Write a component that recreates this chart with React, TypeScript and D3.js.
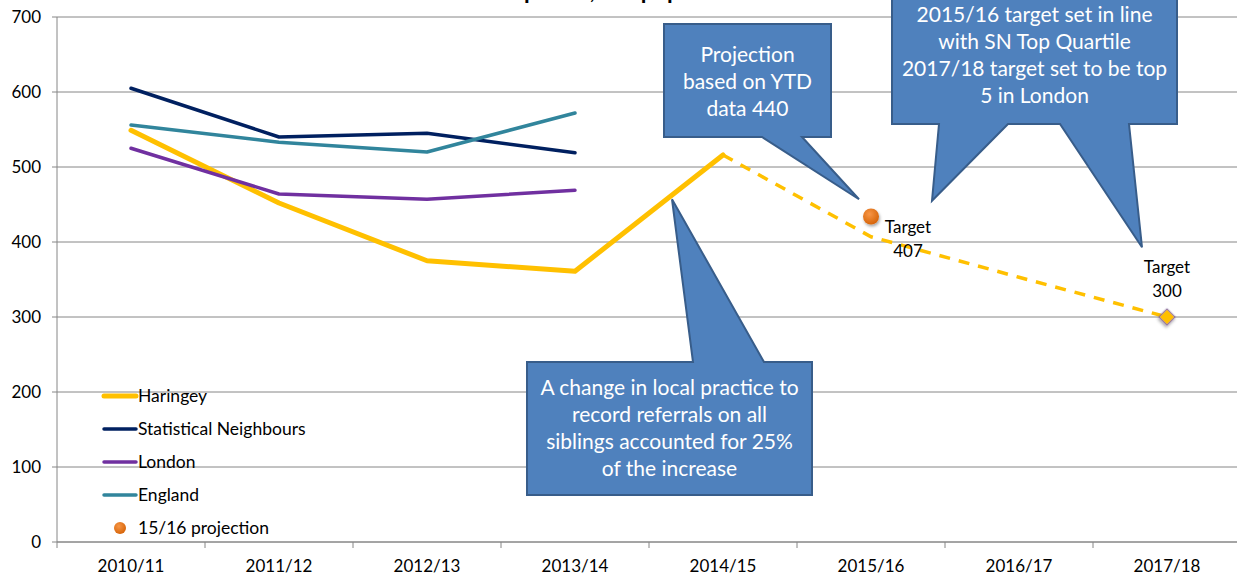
import React from 'react';
import * as d3 from 'd3';

const categories = ['2010/11', '2011/12', '2012/13', '2013/14', '2014/15', '2015/16', '2016/17', '2017/18'];
const haringey = [549, 452, 375, 361, 516];
const statNeighbours = [605, 540, 545, 519];
const london = [525, 464, 457, 469];
const england = [556, 533, 520, 572];
// dashed projection / target path, starting at 2014/15
const projectionCats = ['2014/15', '2015/16', '2016/17', '2017/18'];
const projectionValues = [516, 407, 353, 300];
const ytdProjection = { cat: '2015/16', value: 434 };
const target1718 = { cat: '2017/18', value: 300 };
const yTicks = [0, 100, 200, 300, 400, 500, 600, 700];

const series = [
  { name: 'Haringey', values: haringey, color: '#FFC000', width: 5 },
  { name: 'Statistical Neighbours', values: statNeighbours, color: '#002060', width: 3.5 },
  { name: 'London', values: london, color: '#7030A0', width: 3.5 },
  { name: 'England', values: england, color: '#31859C', width: 3.5 },
];

const W = 1237;
const H = 577;
const FONT = 'Lato, "Open Sans", sans-serif';

// callout: box in pixels, tails point at data positions
const callouts = [
  {
    box: [664, 24, 831, 137],
    tails: [{ side: 'bottom', base: [762, 802], cat: '2015/16', dx: -12, value: 457 }],
    lines: ['Projection', 'based on YTD', 'data 440'],
    textY: 55,
  },
  {
    box: [892, -16, 1177, 124],
    tails: [
      { side: 'bottom', base: [939, 1008], cat: '2015/16', dx: 61, value: 455 },
      { side: 'bottom', base: [1060, 1129], cat: '2017/18', dx: -25, value: 393 },
    ],
    lines: ['2015/16 target set in line', 'with SN Top Quartile', '2017/18 target set to be top', '5 in London'],
    textY: 15,
  },
  {
    box: [527, 362, 812, 495],
    tails: [{ side: 'top', base: [693, 764], cat: '2014/15', dx: -51, value: 457 }],
    lines: ['A change in local practice to', 'record referrals on all', 'siblings accounted for 25%', 'of the increase'],
    textY: 388,
  },
];

export default function App() {
  const x = d3.scaleBand().domain(categories).range([57, 1241]);
  const cx = (c: string) => (x(c) as number) + x.bandwidth() / 2;
  const y = d3.scaleLinear().domain([0, 700]).range([542, 17]);

  const line = d3.line<[number, number]>().x(d => d[0]).y(d => d[1]);

  const calloutPath = (c: any) => {
    const [x0, y0, x1, y1] = c.box;
    const top = c.tails.filter((t: any) => t.side === 'top');
    const bottom = c.tails.filter((t: any) => t.side === 'bottom').sort((a: any, b: any) => b.base[0] - a.base[0]);
    const pts: [number, number][] = [[x0, y0]];
    top.forEach((t: any) => {
      pts.push([t.base[0], y0], [cx(t.cat) + t.dx, y(t.value)], [t.base[1], y0]);
    });
    pts.push([x1, y0], [x1, y1]);
    bottom.forEach((t: any) => {
      pts.push([t.base[1], y1], [cx(t.cat) + t.dx, y(t.value)], [t.base[0], y1]);
    });
    pts.push([x0, y1]);
    return line(pts) + 'Z';
  };

  const legendRows = [...series.map(s => ({ name: s.name, color: s.color, width: s.width, dot: false })),
    { name: '15/16 projection', color: '#E46C0A', width: 0, dot: true }];

  return (
    <svg width={W} height={H} style={{ position: 'absolute', left: 0, top: 0, background: '#fff' }} fontFamily={FONT}>
      <defs>
        <radialGradient id="dotGrad" cx="40%" cy="35%" r="65%">
          <stop offset="0%" stopColor="#F79646" />
          <stop offset="100%" stopColor="#D7650A" />
        </radialGradient>
        <filter id="shadow" x="-50%" y="-50%" width="200%" height="200%">
          <feDropShadow dx="1" dy="2" stdDeviation="1.5" floodColor="#000" floodOpacity="0.35" />
        </filter>
      </defs>

      {/* title, mostly above the frame */}
      <text y={-1} fontSize={23} fontWeight="bold" fill="#000">
        <tspan x={518} textAnchor="end">Referrals</tspan>
        <tspan x={524}>per 10,000 population</tspan>
      </text>

      {/* gridlines + y axis */}
      {yTicks.map(t => (
        <g key={t}>
          <line x1={57} x2={1241} y1={y(t)} y2={y(t)} stroke="#868686" strokeWidth={1} />
          <line x1={52} x2={57} y1={y(t)} y2={y(t)} stroke="#868686" />
          <text x={41} y={y(t)} dy="0.35em" textAnchor="end" fontSize={17} fill="#000">{t}</text>
        </g>
      ))}
      <line x1={57} x2={57} y1={17} y2={542} stroke="#868686" />

      {/* x axis */}
      <line x1={57} x2={1241} y1={542} y2={542} stroke="#868686" />
      {categories.map(c => (
        <g key={c}>
          <line x1={x(c)} x2={x(c)} y1={542} y2={548} stroke="#868686" />
          <text x={cx(c)} y={566} dy="0.35em" textAnchor="middle" fontSize={17} fill="#000">{c}</text>
        </g>
      ))}

      {/* series lines */}
      {series.map(s => (
        <path key={s.name}
          d={line(s.values.map((v, i) => [cx(categories[i]), y(v)]))!}
          fill="none" stroke={s.color} strokeWidth={s.width} strokeLinejoin="round" strokeLinecap="round" />
      ))}

      {/* projection to target */}
      <path d={line(projectionValues.map((v, i) => [cx(projectionCats[i]), y(v)]))!}
        fill="none" stroke="#FFC000" strokeWidth={3.5} strokeDasharray="11,9" />

      {/* markers */}
      <circle cx={cx(ytdProjection.cat)} cy={y(ytdProjection.value)} r={8} fill="url(#dotGrad)" filter="url(#shadow)" />
      <rect x={-5.7} y={-5.7} width={11.4} height={11.4}
        transform={`translate(${cx(target1718.cat)},${y(target1718.value)}) rotate(45)`}
        fill="#FFC000" stroke="#8064A2" strokeWidth={1} filter="url(#shadow)" />

      {/* target labels */}
      <text x={cx('2015/16') + 37} y={y(407) - 10} dy="0.35em" textAnchor="middle" fontSize={17}>Target</text>
      <text x={cx('2015/16') + 37} y={y(407) + 14} dy="0.35em" textAnchor="middle" fontSize={17}>407</text>
      <text x={cx(target1718.cat)} y={y(target1718.value) - 50} dy="0.35em" textAnchor="middle" fontSize={17}>Target</text>
      <text x={cx(target1718.cat)} y={y(target1718.value) - 26} dy="0.35em" textAnchor="middle" fontSize={17}>300</text>

      {/* legend */}
      {legendRows.map((r, i) => {
        const ly = 396 + i * 33;
        return (
          <g key={r.name}>
            {r.dot
              ? <circle cx={120} cy={ly} r={6} fill="url(#dotGrad)" />
              : <line x1={104} x2={136} y1={ly} y2={ly} stroke={r.color} strokeWidth={r.width} strokeLinecap="round" />}
            <text x={138} y={ly} dy="0.35em" fontSize={17.5} fill="#000">{r.name}</text>
          </g>
        );
      })}

      {/* callouts */}
      {callouts.map((c, i) => (
        <g key={i}>
          <path d={calloutPath(c)} fill="#4F81BD" stroke="#385D8A" strokeWidth={2} strokeLinejoin="miter" />
          {c.lines.map((l, j) => (
            <text key={j} x={(c.box[0] + c.box[2]) / 2} y={c.textY + j * 27} dy="0.35em"
              textAnchor="middle" fontSize={21} fill="#fff">{l}</text>
          ))}
        </g>
      ))}
    </svg>
  );
}
